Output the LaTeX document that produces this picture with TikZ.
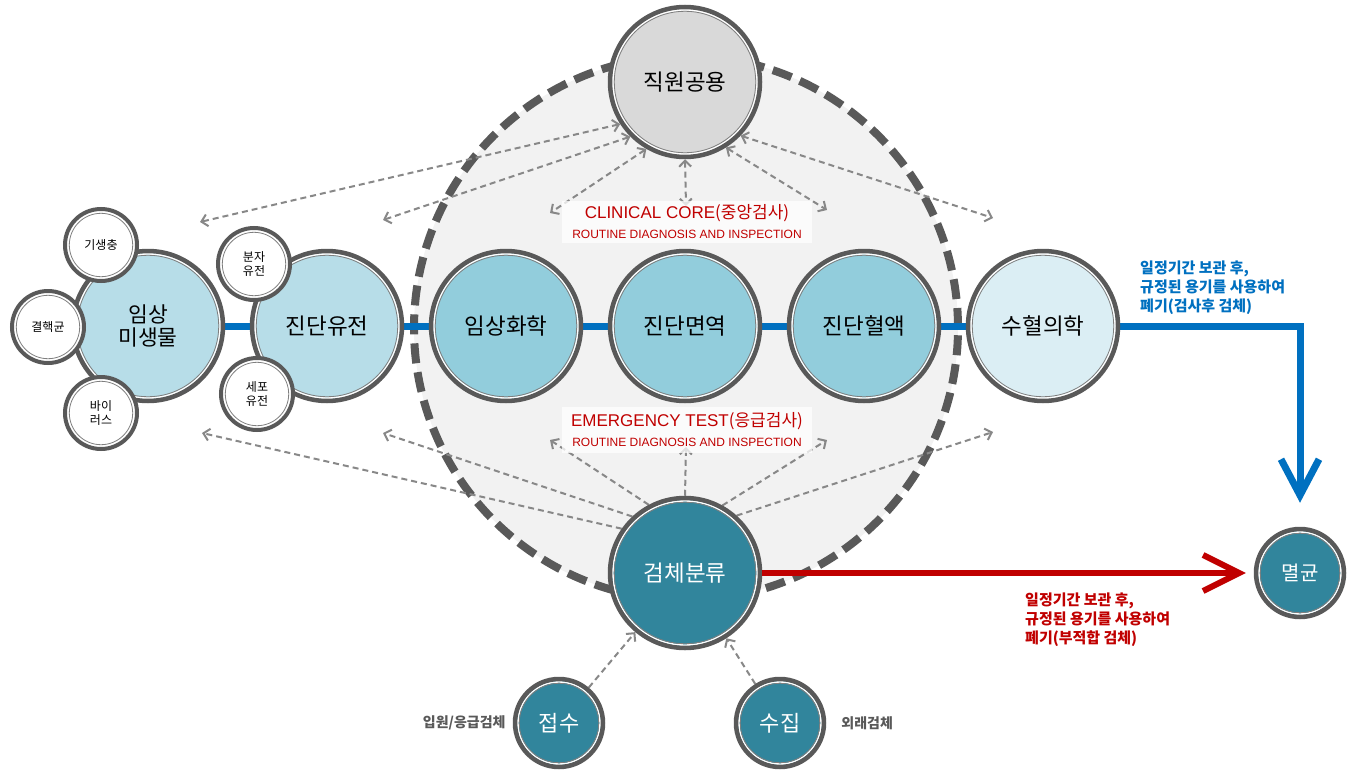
\documentclass[tikz,border=0pt]{standalone}
\usepackage{fontspec}
\setmainfont{Noto Sans CJK KR}
\newfontfamily\en{Liberation Sans}
\usetikzlibrary{arrows.meta}
\usetikzlibrary{positioning}
\usetikzlibrary{calc}
\definecolor{ringdark}{HTML}{595959}
\definecolor{ringthin}{HTML}{7F7F7F}
\definecolor{corebg}{HTML}{F2F2F2}
\definecolor{lblue}{HTML}{B7DDE8}
\definecolor{mblue}{HTML}{92CDDC}
\definecolor{pblue}{HTML}{DBEEF4}
\definecolor{staffgray}{HTML}{D9D9D9}
\definecolor{sortteal}{HTML}{31859C}
\definecolor{lineblue}{HTML}{0070C0}
\definecolor{linered}{HTML}{C00000}
\definecolor{dashgray}{HTML}{888888}
\pgfdeclarelayer{back}
\pgfdeclarelayer{mid}
\pgfsetlayers{back,mid,main}
\tikzstyle{ring} = [circle, draw=ringdark, line width=4.5pt, inner sep=0pt, align=center, path picture={
  \draw[white, line width=1.6pt] let \p1=(path picture bounding box.north), \p2=(path picture bounding box.center) in (\p2) circle[radius=\y1-\y2-2.9pt];
  \draw[ringthin, line width=0.8pt] let \p1=(path picture bounding box.north), \p2=(path picture bounding box.center) in (\p2) circle[radius=\y1-\y2-4.3pt];}]
\tikzstyle{bigc} = [ring, minimum size=150pt, font=\fontsize{22.5}{24}\selectfont]
\tikzstyle{smallc} = [ring, line width=4pt, minimum size=72pt, fill=white, font=\fontsize{12}{14}\selectfont]
\tikzstyle{tealc} = [ring, fill=sortteal, text=white, minimum size=88pt, font=\fontsize{22}{24}\selectfont]
\tikzstyle{labelbox} = [fill=white, fill opacity=0.75, text opacity=1, text=linered, minimum width=250pt, minimum height=42pt, inner sep=0pt, align=center, font=\fontsize{12}{20}\selectfont]
\tikzstyle{note} = [anchor=north west, align=left, inner sep=0pt, font=\bfseries\fontsize{15}{19}\selectfont]
\tikzstyle{sidenote} = [inner sep=0pt, text=ringdark, font=\bfseries\fontsize{14}{16}\selectfont]
\tikzstyle{dashlink} = [draw=dashgray, line width=2pt, dash pattern=on 6pt off 4pt, >={Straight Barb[length=6pt,width=12pt]}]
\tikzstyle{rowline} = [draw=lineblue, line width=7pt, line join=miter]
\tikzstyle{redline} = [draw=linered, line width=6pt]

\begin{document}
\begin{tikzpicture}[x=1pt, y=-1pt, node distance=24.5pt]
  \useasboundingbox (0,0) rectangle (1358,771);

  % the dashed core area
  \begin{pgfonlayer}{back}
    \node (core) [circle, draw=ringdark, fill=corebg, line width=8pt, dash pattern=on 20pt off 9pt, minimum size=544pt] at (686,328) {};
  \end{pgfonlayer}

  % We start by placing the main row
  \node (mic) [bigc, fill=lblue, font=\fontsize{21.5}{23}\selectfont] at (148,326) {임상\\미생물};
  \node (gen) [bigc, fill=lblue, right=of mic] {진단유전};
  \node (chem) [bigc, fill=mblue, right=of gen] {임상화학};
  \node (immu) [bigc, fill=mblue, right=of chem] {진단면역};
  \node (hema) [bigc, fill=mblue, right=of immu] {진단혈액};
  \node (trans) [bigc, fill=pblue, right=of hema] {수혈의학};
  \node (staff) [bigc, fill=staffgray, above=89.5pt of immu] {직원공용};
  \node (sort) [bigc, fill=sortteal, text=white, below=92.5pt of immu] {검체분류};

  % small satellites
  \node (para) [smallc] at (101,245) {기생충};
  \node (tb) [smallc] at (48,327) {결핵균};
  \node (virus) [smallc] at (101,413) {바이\\러스};
  \node (molgen) [smallc] at (254,264) {분자\\유전};
  \node (cellgen) [smallc] at (257,394) {세포\\유전};

  % bottom and right circles
  \node (recv) [tealc] at (559,723) {접수};
  \node (coll) [tealc] at (780,723) {수집};
  \node (ster) [tealc, font=\fontsize{20}{22}\selectfont] at (1300,573) {멸균};
  \node (recvnote) [sidenote, left=7pt of recv] {입원/응급검체};
  \node (collnote) [sidenote, right=15pt of coll] {외래검체};

  % red labels
  \node (corelab) [labelbox] at (687,222) {{\en\fontsize{17}{19}\selectfont CLINICAL CORE}{\fontsize{17}{19}\selectfont(중앙검사)}\\{\en\fontsize{12}{14}\selectfont ROUTINE DIAGNOSIS AND INSPECTION}};
  \node (emerlab) [labelbox, minimum height=46pt] at (687,430) {{\en\fontsize{17}{19}\selectfont EMERGENCY TEST}{\fontsize{17}{19}\selectfont(응급검사)}\\{\en\fontsize{12}{14}\selectfont ROUTINE DIAGNOSIS AND INSPECTION}};

  % disposal notes
  \node (keepnote) [note, text=lineblue] at (1140,261) {일정기간 보관 후,\\규정된 용기를 사용하여\\폐기(검사후 검체)};
  \node (badnote) [note, text=linered] at (1025,593) {일정기간 보관 후,\\규정된 용기를 사용하여\\폐기(부적합 검체)};

  % free ends of the dashed links
  \coordinate (st1) at (200,222);
  \coordinate (st2) at (383,220);
  \coordinate (st3) at (550,213);
  \coordinate (st4) at (686,206);
  \coordinate (st5) at (827,210);
  \coordinate (st6) at (993,218);
  \coordinate (so1) at (202,433);
  \coordinate (so2) at (383,433);
  \coordinate (so3) at (550,440);
  \coordinate (so4) at (686,447);
  \coordinate (so5) at (827,440);
  \coordinate (so6) at (993,432);
  \coordinate (bluedown) at ([yshift=24pt]ster.north);
  \coordinate (redin) at ([xshift=-8pt]ster.west);

  % Draw the connections between blocks
  \begin{pgfonlayer}{mid}
    \draw [dashlink, <->] (staff.213) -- (st1);
    \draw [dashlink, <->] (staff.225) -- (st2);
    \draw [dashlink, <->] (staff.240) -- (st3);
    \draw [dashlink, <->] (staff.270) -- (st4);
    \draw [dashlink, <->] (staff.302) -- (st5);
    \draw [dashlink, <->] (staff.316) -- (st6);
    \draw [dashlink, ->] (sort.145) -- (so1);
    \draw [dashlink, ->] (sort.133) -- (so2);
    \draw [dashlink, ->] (sort.118) -- (so3);
    \draw [dashlink, ->] (sort.90) -- (so4);
    \draw [dashlink, ->] (sort.61) -- (so5);
    \draw [dashlink, ->] (sort.48) -- (so6);
    \draw [dashlink, ->] (recv) -- (sort);
    \draw [dashlink, ->] (coll) -- (sort);
    \draw [rowline] (mic) -- (gen) (gen) -- (chem) (chem) -- (immu) (immu) -- (hema) (hema) -- (trans);
    \draw [rowline, -{Straight Barb[length=36pt,width=38pt]}] (trans.east) -| (bluedown);
  \end{pgfonlayer}
  \draw [redline, -{Straight Barb[length=36pt,width=36pt]}] (sort.east) -- (redin);

\end{tikzpicture}
\end{document}
